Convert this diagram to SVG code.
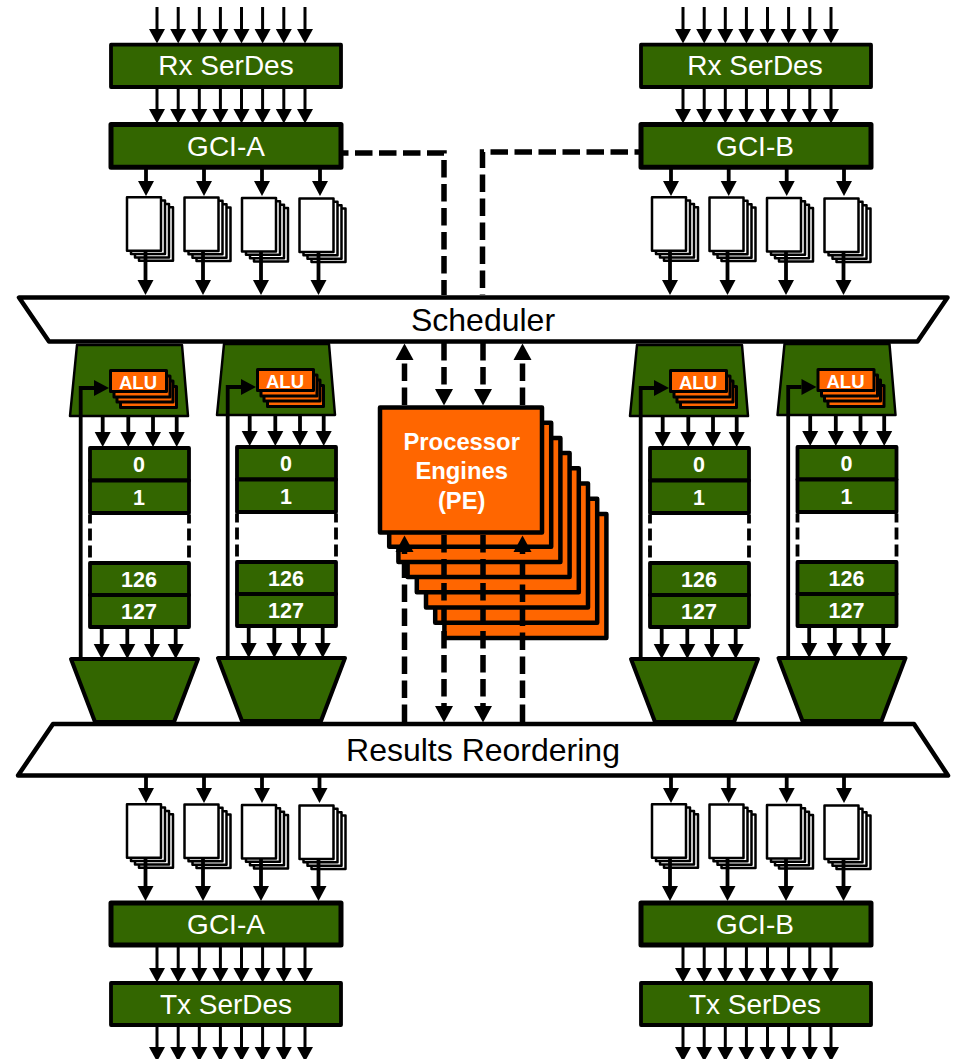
<svg xmlns="http://www.w3.org/2000/svg" xmlns:xlink="http://www.w3.org/1999/xlink" width="957" height="1059" viewBox="0 0 957 1059">
<style>
text{font-family:"Liberation Sans",Arial,sans-serif;text-anchor:middle}
.wl{fill:#fff;font-size:28px}
.bk{fill:#000;font-size:32px}
.nm{fill:#fff;font-size:21.5px;font-weight:bold}
.alu{fill:#fff;font-size:18.5px;font-weight:bold}
.pe{fill:#fff;font-size:23.8px;font-weight:bold}
.g{fill:#336600;stroke:#000;stroke-linejoin:round}
.o{fill:#FF6600;stroke:#000;stroke-linejoin:round}
.w{fill:#fff;stroke:#000;stroke-linejoin:round}
.thin{stroke:#000;stroke-width:3;fill:none;marker-end:url(#hThin)}
.mid{stroke:#000;stroke-width:3.8;fill:none;marker-end:url(#hMid)}
.dash{stroke:#000;stroke-width:5.5;fill:none;stroke-dasharray:17.5 6.5}
</style>
<defs>
<marker id="hThin" markerUnits="userSpaceOnUse" markerWidth="16" markerHeight="16" refX="0" refY="8" orient="auto" overflow="visible"><path d="M0,0 L14.500,8 L0,16Z" fill="#000"/></marker>
<marker id="hMid" markerUnits="userSpaceOnUse" markerWidth="16" markerHeight="16" refX="0" refY="8" orient="auto" overflow="visible"><path d="M0,0 L15,8 L0,16Z" fill="#000"/></marker>
<marker id="hDash" markerUnits="userSpaceOnUse" markerWidth="18" markerHeight="18" refX="0" refY="9" orient="auto" overflow="visible"><path d="M0,0 L16.500,9 L0,18Z" fill="#000"/></marker>
<g id="bus"><path class="thin" d="M157,0V22"/><path class="thin" d="M178.2,0V22"/><path class="thin" d="M199.3,0V22"/><path class="thin" d="M220.4,0V22"/><path class="thin" d="M241.5,0V22"/><path class="thin" d="M262.6,0V22"/><path class="thin" d="M283.8,0V22"/><path class="thin" d="M305,0V22"/></g>
<g id="doc"><rect class="w" stroke-width="2.500" x="12" y="10" width="34" height="53.500"/><rect class="w" stroke-width="2.500" x="8" y="6.700" width="34" height="53.500"/><rect class="w" stroke-width="2.500" x="4" y="3.300" width="34" height="53.500"/><rect class="w" stroke-width="2.500" x="0" y="0" width="34" height="53.500"/></g>
<g id="pipe">
<path class="g" stroke-width="2.500" d="M77,345 H182 L188,416 H70Z"/>
<rect class="o" stroke-width="3" x="120.500" y="386.500" width="56" height="21"/><rect class="o" stroke-width="3" x="117" y="381" width="56" height="21"/><rect class="o" stroke-width="3" x="114" y="376" width="56" height="21"/><rect class="o" stroke-width="3" x="110.500" y="370.500" width="56" height="21"/>
<text class="alu" x="138" y="389">ALU</text>
<rect class="g" stroke-width="3.800" x="90" y="448" width="99" height="32.500"/><rect class="g" stroke-width="3.800" x="90" y="480.500" width="99" height="32.500"/>
<path d="M90,514.500V562M189,514.500V562" stroke="#000" stroke-width="3.800" fill="none" stroke-dasharray="9 5 12 5 12 5"/>
<rect class="g" stroke-width="3.800" x="90" y="563" width="99" height="32"/><rect class="g" stroke-width="3.800" x="90" y="595" width="99" height="32"/>
<text class="nm" x="139" y="472">0</text><text class="nm" x="139" y="504.500">1</text><text class="nm" x="139" y="587">126</text><text class="nm" x="139" y="619">127</text>
<path class="g" stroke-width="4" d="M71,659 H198 L174,722 H95Z"/>
<path class="mid" d="M102.700,416V432"/><path class="mid" d="M128.300,416V432"/><path class="mid" d="M153,416V432"/><path class="mid" d="M176.700,416V432"/>
<path class="mid" d="M101.700,627V644"/><path class="mid" d="M127.300,627V644"/><path class="mid" d="M152,627V644"/><path class="mid" d="M175.700,627V644"/>
<path class="mid" d="M80.700,658V388H94"/>
</g>
</defs>
<g id="rx-serdes-a"><rect class="g" stroke-width="3.800" x="111" y="44.700" width="230" height="42.300"/><text class="wl" x="226" y="75">Rx SerDes</text></g>
<g id="rx-serdes-b"><rect class="g" stroke-width="3.800" x="641" y="44.700" width="230" height="42.300"/><text class="wl" x="755" y="75">Rx SerDes</text></g>
<g id="gci-a-in"><rect class="g" stroke-width="5" x="111" y="124.500" width="230" height="42.700"/><text class="wl" x="226" y="155.500">GCI-A</text></g>
<g id="gci-b-in"><rect class="g" stroke-width="5" x="641" y="124.500" width="230" height="42.700"/><text class="wl" x="755" y="155.500">GCI-B</text></g>
<g id="buffers-a-in"><use href="#doc" x="127" y="197.200"/><use href="#doc" x="184.500" y="197.500"/><use href="#doc" x="242" y="198"/><use href="#doc" x="299.500" y="198.500"/></g>
<g id="buffers-b-in"><use href="#doc" x="652" y="197.200"/><use href="#doc" x="709.500" y="197.500"/><use href="#doc" x="767" y="198"/><use href="#doc" x="824.500" y="198.500"/></g>
<g id="scheduler"><path class="w" stroke-width="4.500" d="M19,297.500 H947.500 L917.500,341.500 H49Z"/><text class="bk" x="483" y="331">Scheduler</text></g>
<g id="pipe-1"><use href="#pipe"/></g>
<g id="pipe-2"><use href="#pipe" x="147" y="-1"/></g>
<g id="pipe-3"><use href="#pipe" x="560" y="0"/></g>
<g id="pipe-4"><use href="#pipe" x="707.500" y="-1"/></g>
<g id="pe">
<rect class="o" stroke-width="4.500" x="444.400" y="513.900" width="162" height="124"/><rect class="o" stroke-width="4.500" x="435.200" y="498.700" width="162" height="124"/><rect class="o" stroke-width="4.500" x="426" y="483.500" width="162" height="124"/><rect class="o" stroke-width="4.500" x="416.800" y="468.300" width="162" height="124"/><rect class="o" stroke-width="4.500" x="407.600" y="453.100" width="162" height="124"/><rect class="o" stroke-width="4.500" x="398.400" y="437.900" width="162" height="124"/><rect class="o" stroke-width="4.500" x="389.200" y="422.700" width="162" height="124"/><rect class="o" stroke-width="4.500" x="380" y="407.500" width="162" height="125"/>
<text class="pe" x="461.700" y="450">Processor</text><text class="pe" x="461.700" y="479">Engines</text><text class="pe" x="461.700" y="509">(PE)</text>
</g>
<g id="results-reordering"><path class="w" stroke-width="4.500" d="M53,724 H914 L948,775.500 H18Z"/><text class="bk" x="483" y="761">Results Reordering</text></g>
<g id="buffers-a-out"><use href="#doc" x="127" y="804.200"/><use href="#doc" x="184.500" y="804.500"/><use href="#doc" x="242" y="805"/><use href="#doc" x="299.500" y="805.500"/></g>
<g id="buffers-b-out"><use href="#doc" x="652" y="804.200"/><use href="#doc" x="709.500" y="804.500"/><use href="#doc" x="767" y="805"/><use href="#doc" x="824.500" y="805.500"/></g>
<g id="gci-a-out"><rect class="g" stroke-width="5" x="111" y="903" width="230" height="42"/><text class="wl" x="226" y="933.500">GCI-A</text></g>
<g id="gci-b-out"><rect class="g" stroke-width="5" x="641" y="903" width="230" height="42"/><text class="wl" x="755" y="933.500">GCI-B</text></g>
<g id="tx-serdes-a"><rect class="g" stroke-width="3.800" x="111" y="983" width="230" height="42"/><text class="wl" x="226" y="1013.500">Tx SerDes</text></g>
<g id="tx-serdes-b"><rect class="g" stroke-width="3.800" x="641" y="983" width="230" height="42"/><text class="wl" x="755" y="1013.500">Tx SerDes</text></g>
<g id="connectors">
<use href="#bus" y="7"/><use href="#bus" x="526" y="7"/>
<use href="#bus" y="87"/><use href="#bus" x="526" y="87"/>
<use href="#bus" y="946"/><use href="#bus" x="526" y="946"/>
<use href="#bus" y="1025"/><use href="#bus" x="526" y="1025"/>
<path class="mid" d="M146,169V181"/><path class="mid" d="M204,169V181"/><path class="mid" d="M262,169V181"/><path class="mid" d="M320,169V181"/>
<path class="mid" d="M671,169V181"/><path class="mid" d="M728.700,169V181"/><path class="mid" d="M786.700,169V181"/><path class="mid" d="M844,169V181"/>
<path class="mid" d="M145.500,252V280"/><path class="mid" d="M203,252V280"/><path class="mid" d="M261,252V280"/><path class="mid" d="M318.500,252V280"/>
<path class="mid" d="M670,252V280"/><path class="mid" d="M727.500,252V280"/><path class="mid" d="M786,252V280"/><path class="mid" d="M843.500,252V280"/>
<path class="mid" d="M146,777V788"/><path class="mid" d="M204,777V788"/><path class="mid" d="M262,777V788"/><path class="mid" d="M319.500,777V788"/>
<path class="mid" d="M671,777V788"/><path class="mid" d="M728.700,777V788"/><path class="mid" d="M786.700,777V788"/><path class="mid" d="M844,777V788"/>
<path class="mid" d="M145.500,859V886"/><path class="mid" d="M203,859V886"/><path class="mid" d="M261,859V886"/><path class="mid" d="M318.500,859V886"/>
<path class="mid" d="M670,859V886"/><path class="mid" d="M727.500,859V886"/><path class="mid" d="M786,859V886"/><path class="mid" d="M843.500,859V886"/>
<path class="dash" stroke-dashoffset="12" d="M343,153H444V295"/>
<path class="dash" stroke-dashoffset="12" d="M640,152H482.500V295"/>
<path class="dash" marker-end="url(#hDash)" d="M404.500,405V360"/><path class="dash" marker-end="url(#hDash)" d="M522.500,405V360"/>
<path class="dash" marker-end="url(#hDash)" d="M444,343V389"/><path class="dash" marker-end="url(#hDash)" d="M483,343V389"/>
<path class="dash" marker-end="url(#hDash)" d="M404.500,722V552"/><path class="dash" marker-end="url(#hDash)" d="M522.500,722V552"/>
<path class="dash" marker-end="url(#hDash)" d="M444,535V706"/><path class="dash" marker-end="url(#hDash)" d="M483,535V706"/>
</g>
</svg>
